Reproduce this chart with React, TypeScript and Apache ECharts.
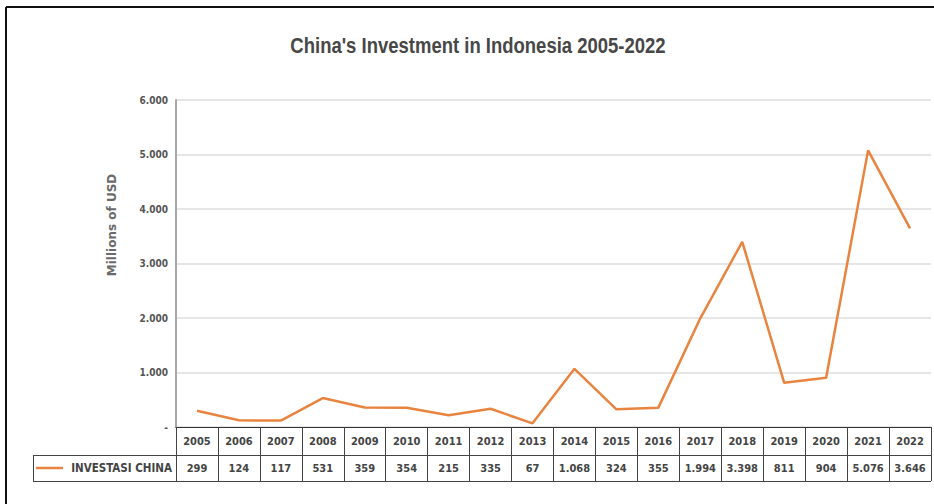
import React, { useEffect, useRef } from "react";
import * as echarts from "echarts";

const years = ["2005","2006","2007","2008","2009","2010","2011","2012","2013","2014","2015","2016","2017","2018","2019","2020","2021","2022"];
const investment = [299,124,117,531,359,354,215,335,67,1068,324,355,1994,3398,811,904,5076,3646];
const seriesName = "INVESTASI CHINA";
const titleText = "China's Investment in Indonesia 2005-2022";
const yAxisName = "Millions of USD";

const FONT = "'Liberation Sans Narrow', 'DejaVu Sans Condensed', 'Roboto', sans-serif";
const TITLE_FONT = "'Liberation Sans', Arial, sans-serif";
const LINE_COLOR = "#E8843F";

function fmt(v: number): string {
  if (v === 0) return "-";
  return String(v).replace(/\B(?=(\d{3})+(?!\d))/g, ".");
}

export default function App() {
  const ref = useRef<HTMLDivElement>(null);
  useEffect(() => {
    if (!ref.current) return;
    const chart = echarts.init(ref.current, null, { renderer: "svg" });
    const gridLeft = 176, gridRight = 931, gridTop = 100, gridBottom = 427;
    chart.setOption({
      animation: false,
      backgroundColor: "#ffffff",
      grid: { left: gridLeft, right: 934 - gridRight, top: gridTop, bottom: 504 - gridBottom, containLabel: false },
      xAxis: {
        type: "category",
        data: years,
        boundaryGap: true,
        axisLine: { show: true, lineStyle: { color: "#333", width: 1 } },
        axisTick: { show: true, interval: 0, length: 54, lineStyle: { color: "#444", width: 1 } },
        axisLabel: {
          interval: 0,
          margin: 1,
          formatter: (val: string, idx: number) => `{y|${val}}\n{v|${fmt(investment[idx])}}`,
          rich: {
            y: { fontFamily: FONT, fontWeight: "bold", fontSize: 11, color: "#444", lineHeight: 27, align: "center" },
            v: { fontFamily: FONT, fontWeight: "bold", fontSize: 11, color: "#444", lineHeight: 27, align: "center" },
          },
        },
        splitLine: { show: false },
      },
      yAxis: {
        type: "value",
        min: 0,
        max: 6000,
        interval: 1000,
        axisLine: { show: true, lineStyle: { color: "#a8a8a8", width: 2 } },
        axisTick: { show: false },
        axisLabel: {
          margin: 8,
          formatter: (v: number) => fmt(v),
          fontFamily: FONT,
          fontWeight: "bold",
          fontSize: 10,
          color: "#555",
        },
        splitLine: { show: true, lineStyle: { color: "#e6e6e6", width: 2 } },
      },
      series: [
        {
          name: seriesName,
          type: "line",
          data: investment,
          symbol: "none",
          lineStyle: { color: LINE_COLOR, width: 2.5 },
        },
      ],
      graphic: [
        // outer frame
        { type: "line", shape: { x1: 6, y1: 7, x2: 934, y2: 7 }, style: { stroke: "#111", lineWidth: 2 } },
        { type: "line", shape: { x1: 6, y1: 7, x2: 6, y2: 504 }, style: { stroke: "#111", lineWidth: 2 } },
        // title
        {
          type: "text",
          x: 478,
          y: 45,
          scaleX: 0.86,
          style: { text: titleText, fontFamily: TITLE_FONT, fontWeight: "bold", fontSize: 21.5, fill: "#474747", align: "center", verticalAlign: "middle" },
        },
        // table horizontal lines
        { type: "line", shape: { x1: 33, y1: 455.5, x2: gridRight, y2: 455.5 }, style: { stroke: "#444", lineWidth: 1 } },
        { type: "line", shape: { x1: 33, y1: 481.5, x2: gridRight, y2: 481.5 }, style: { stroke: "#444", lineWidth: 1 } },
        { type: "line", shape: { x1: 33.5, y1: 455, x2: 33.5, y2: 482 }, style: { stroke: "#444", lineWidth: 1 } },
        // legend key
        { type: "line", shape: { x1: 36, y1: 468, x2: 63, y2: 468 }, style: { stroke: LINE_COLOR, lineWidth: 2.5 } },
        {
          type: "text",
          x: 172,
          y: 468,
          style: { text: seriesName, fontFamily: FONT, fontWeight: "bold", fontSize: 11.5, fill: "#444", align: "right", verticalAlign: "middle" },
        },
        // y axis name
        {
          type: "text",
          x: 112,
          y: 225,
          rotation: Math.PI / 2,
          style: { text: yAxisName, fontFamily: "'DejaVu Sans', sans-serif", fontWeight: "bold", fontSize: 12, fill: "#6a6a6a", align: "center", verticalAlign: "middle" },
        },
      ],
    });
    return () => chart.dispose();
  }, []);
  return <div ref={ref} style={{ position: "absolute", left: 0, top: 0, width: 934, height: 504 }} />;
}
